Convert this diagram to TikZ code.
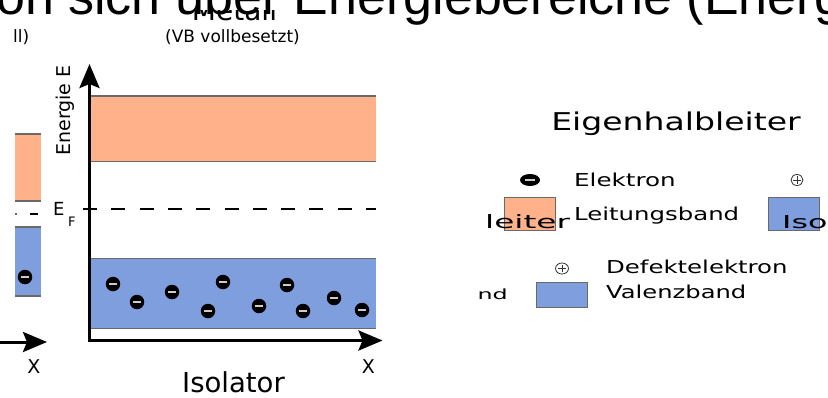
\documentclass[tikz,border=0pt]{standalone}
\usepackage{fontspec}
\setmainfont{DejaVu Sans}
\newfontfamily\titlefont{Liberation Sans}
\usetikzlibrary{arrows.meta,positioning,shapes.geometric}
\definecolor{bandorange}{RGB}{255,178,138}
\definecolor{bandblue}{RGB}{127,158,222}
\definecolor{bandedge}{RGB}{105,105,105}
\newcommand{\fs}[1]{\fontsize{#1}{#1}\selectfont}
\newcommand{\wide}[2]{\scalebox{#1}[1]{#2}}

\tikzset{
  txt/.style={inner sep=0pt,anchor=base west},
  axis/.style={line width=3pt,{Stealth[length=24pt,width=20pt,inset=4pt]}-{Stealth[length=24pt,width=20pt,inset=4pt]}},
  edge/.style={draw=bandedge,line width=1.2pt},
  elektron/.style={circle,fill=black,minimum size=14.5pt,inner sep=0pt,
    path picture={\draw[white!80!black,line width=1.6pt]
      ([xshift=-3.8pt]path picture bounding box.center) -- ([xshift=3.8pt]path picture bounding box.center);}},
  legelektron/.style={ellipse,fill=black,minimum width=20pt,minimum height=12pt,inner sep=0pt,
    path picture={\draw[white!80!black,line width=1.4pt]
      ([xshift=-5pt]path picture bounding box.center) -- ([xshift=5pt]path picture bounding box.center);}},
  loch/.style={ellipse,draw=black!80,line width=0.8pt,minimum width=#1,minimum height=11pt,inner sep=0pt,
    path picture={\draw[black!80,line width=0.8pt]
      ([xshift=-4pt]path picture bounding box.center) -- ([xshift=4pt]path picture bounding box.center)
      ([yshift=-3.8pt]path picture bounding box.center) -- ([yshift=3.8pt]path picture bounding box.center);}},
  legbox/.style={rectangle,draw=bandedge,line width=0.9pt,minimum width=51pt,minimum height=33pt,inner sep=0pt}
}

\begin{document}
\begin{tikzpicture}[x=1pt,y=-1pt]
  \path[use as bounding box,clip] (0,0) rectangle (828,397);
  \fill[white] (0,0) rectangle (828,397);

  % Metall (oben halb verdeckt)
  \node[txt,anchor=base] (metall) at (234.5,20) {\fs{28}Metall};
  \fill[white] (140,0) rectangle (330,9.5);
  \node[txt] (titel) at (-4,14) {\titlefont\fs{52}on sich über Energiebereiche (Energ};
  \node[txt,anchor=base] (vb) at (232.5,42) {\fs{17}(VB vollbesetzt)};
  \node[txt,anchor=base east] (ll) at (29.5,42) {\fs{17}ll)};

  % linkes Bruchstueck
  \fill[bandorange] (15,134) rectangle (40.5,201);
  \draw[edge] (15,134) -- (40.5,134) (15,201) -- (40.5,201);
  \draw[black!60,line width=1.2pt] (15,214) -- (16.5,214);
  \draw[line width=1.2pt] (30,214) -- (38,214);
  \fill[bandblue] (15,227) rectangle (40.5,296);
  \draw[edge] (15,227) -- (40.5,227) (15,296) -- (40.5,296);
  \node[elektron] (e0) at (25,277) {};
  \coordinate (lx0) at (-2,342);
  \coordinate (lxtip) at (47,342);
  \draw[line width=3pt,-{Stealth[length=24pt,width=20pt,inset=4pt]}] (lx0) -- (lxtip);
  \node[txt,anchor=center] (lx) at (34,367) {\fs{19}X};

  % Baender
  \fill[bandorange] (89.5,96) rectangle (376,161.5);
  \draw[edge] (89.5,96) -- (376,96) (89.5,161.5) -- (376,161.5);
  \fill[bandblue] (89.5,258.5) rectangle (376,328.5);
  \draw[edge] (89.5,258.5) -- (376,258.5) (89.5,328.5) -- (376,328.5);

  % Fermi-Niveau
  \draw[line width=1.3pt,dash pattern=on 14pt off 14.3pt] (83,209) -- (376,209);
  \node[txt] (ef) at (53,215) {\fs{18}E};
  \node[txt] (f) at (68,226.5) {\fs{13}F};

  % Elektronen im Valenzband
  \foreach \px/\py [count=\i] in {113/284,137/302,172/292,208/311,223/282,259/306,287/285,303/311,334/298,362/310}
    \node[elektron] (e\i) at (\px,\py) {};

  % Achsen
  \coordinate (ytip) at (89.5,64);
  \coordinate (origin) at (89.5,340.5);
  \coordinate (xtip) at (382.5,340.5);
  \draw[axis] (ytip) -- (origin) -- (xtip);
  \node[inner sep=0pt,rotate=90] (energie) at (65,110.5) {\fs{19}Energie E};
  \node[txt,anchor=center] (x) at (368.5,367) {\fs{19}X};
  \node[txt,anchor=base] (isolator) at (233.5,392) {\fs{27.5}Isolator};

  % Legende
  \node[txt,anchor=base] (eigen) at (676,130) {\wide{1.35}{\fs{24.5}Eigenhalbleiter}};
  \node[legelektron] (le) at (530,180) {};
  \node[txt] (elektron) at (574,186) {\wide{1.38}{\fs{17.8}Elektron}};
  \node[loch=12pt] (lp1) at (797,180) {};
  \node[legbox,fill=bandorange] (lbo) at (529.5,213.5) {};
  \node[txt] (leitung) at (574,220) {\wide{1.37}{\fs{17.8}Leitungsband}};
  \node[txt] (leiter) at (485,228) {\wide{1.78}{\fs{18.4}leiter}};
  \node[legbox,fill=bandblue] (lbb) at (793.5,213.5) {};
  \node[txt] (iso) at (782,228) {\wide{1.78}{\fs{17.8}Iso}};
  \node[loch=13pt] (lp2) at (562,268.5) {};
  \node[txt] (defekt) at (606,273) {\wide{1.37}{\fs{17.8}Defektelektron}};
  \node[txt,anchor=base east] (nd) at (508,299) {\wide{1.7}{\fs{14}nd}};
  \node[legbox,fill=bandblue,minimum height=25pt] (lbv) at (562,294.5) {};
  \node[txt] (valenz) at (606,298) {\wide{1.36}{\fs{17.8}Valenzband}};
\end{tikzpicture}
\end{document}
